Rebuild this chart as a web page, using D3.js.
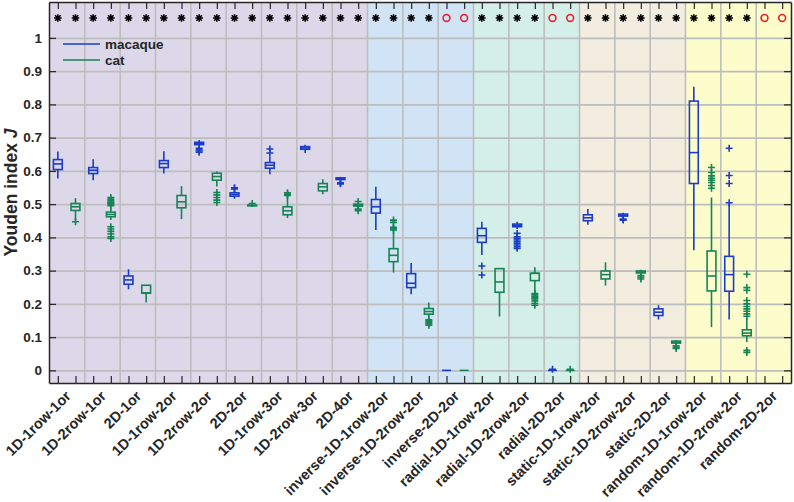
<!DOCTYPE html>
<html>
<head>
<meta charset="utf-8">
<script src="https://cdn.jsdelivr.net/npm/d3@7"></script>
<style>
  body { margin: 0; background: #fff; }
  svg text { font-family: "Liberation Sans", Arial, sans-serif; font-weight: bold; fill: #262626; }
</style>
</head>
<body>
<div id="chart"></div>
<script>
// categories on the x axis (each has a macaque and a cat box)
var categories = ['1D-1row-1or', '1D-2row-1or', '2D-1or', '1D-1row-2or', '1D-2row-2or', '2D-2or',
  '1D-1row-3or', '1D-2row-3or', '2D-4or', 'inverse-1D-1row-2or', 'inverse-1D-2row-2or',
  'inverse-2D-2or', 'radial-1D-1row-2or', 'radial-1D-2row-2or', 'radial-2D-2or',
  'static-1D-1row-2or', 'static-1D-2row-2or', 'static-2D-2or', 'random-1D-1row-2or',
  'random-1D-2row-2or', 'random-2D-2or'];

// stimulus families, number of categories in each
var groupSizes = [9, 3, 3, 3, 3];
var groupColors = ['#dcd8ea', '#d1e4f5', '#d4efe8', '#f3ede0', '#fdfdcc'];

// box stats per category: [whisker low, q1, median, q3, whisker high]
var macaqueBox = [
  [0.577, 0.604, 0.621, 0.634, 0.658], [0.572, 0.592, 0.602, 0.610, 0.635],
  [0.244, 0.259, 0.272, 0.284, 0.304], [0.592, 0.610, 0.622, 0.631, 0.659],
  [0.672, 0.679, 0.683, 0.686, 0.693], [0.516, 0.524, 0.529, 0.534, 0.540],
  [0.590, 0.608, 0.617, 0.625, 0.643], [0.654, 0.665, 0.669, 0.673, 0.679],
  [0.568, 0.574, 0.577, 0.579, 0.582], [0.422, 0.473, 0.492, 0.514, 0.552],
  [0.229, 0.249, 0.262, 0.291, 0.323], [0, 0, 0, 0, 0],
  [0.347, 0.385, 0.405, 0.427, 0.447], [0.425, 0.432, 0.436, 0.440, 0.447],
  [0, 0, 0, 0, 0], [0.438, 0.450, 0.459, 0.468, 0.485],
  [0.460, 0.464, 0.467, 0.470, 0.474], [0.153, 0.165, 0.175, 0.185, 0.196],
  [0.361, 0.562, 0.655, 0.810, 0.853], [0.153, 0.238, 0.288, 0.343, 0.500],
  null
];
var macaqueOut = [
  [], [], [], [], [0.668, 0.664, 0.660, 0.656], [0.546, 0.549], [0.654, 0.666], [],
  [0.564, 0.561], [], [], [], [0.314, 0.287],
  [0.412, 0.402, 0.397, 0.392, 0.387, 0.382, 0.377, 0.372, 0.367],
  [0.003], [], [0.455, 0.452], [], [], [0.668, 0.586, 0.562, 0.504], []
];
var catBox = [
  [0.452, 0.481, 0.492, 0.502, 0.518], [0.452, 0.462, 0.469, 0.476, 0.488],
  [0.204, 0.232, 0.233, 0.256, 0.256], [0.455, 0.489, 0.507, 0.526, 0.554],
  [0.553, 0.572, 0.583, 0.593, 0.598], [0.494, 0.495, 0.496, 0.497, 0.499],
  [0.458, 0.468, 0.480, 0.492, 0.522], [0.530, 0.540, 0.552, 0.562, 0.575],
  [0.488, 0.494, 0.497, 0.500, 0.505], [0.294, 0.327, 0.346, 0.366, 0.415],
  [0.160, 0.169, 0.177, 0.186, 0.204], [0, 0, 0, 0, 0],
  [0.162, 0.235, 0.266, 0.306, 0.306], [0.235, 0.270, 0.292, 0.292, 0.310],
  [0, 0, 0, 0, 0], [0.255, 0.275, 0.288, 0.299, 0.325],
  [0.289, 0.293, 0.296, 0.299, 0.303], [0.077, 0.082, 0.085, 0.088, 0.091],
  [0.130, 0.239, 0.284, 0.359, 0.520], [0.085, 0.104, 0.112, 0.122, 0.155],
  null
];
var catOut = [
  [0.447],
  [0.495, 0.500, 0.503, 0.506, 0.510, 0.515, 0.520, 0.432, 0.425, 0.418, 0.410, 0.402, 0.397],
  [], [], [0.535, 0.528, 0.520, 0.512, 0.505], [0.502], [0.526, 0.530, 0.534], [],
  [0.508, 0.485, 0.480], [0.422, 0.426, 0.430, 0.445, 0.452],
  [0.152, 0.148, 0.144, 0.140, 0.136], [], [],
  [0.231, 0.227, 0.223, 0.219, 0.215, 0.209, 0.202, 0.196],
  [0.003], [], [0.285, 0.280, 0.275], [0.074, 0.070, 0.066],
  [0.548, 0.556, 0.565, 0.572, 0.578, 0.585, 0.595, 0.610],
  [0.163, 0.170, 0.178, 0.185, 0.192, 0.200, 0.210, 0.241, 0.249, 0.289, 0.060, 0.054],
  []
];
// significance marks on top: 1 = asterisk, 0 = red circle
var macaqueSig = [1,1,1,1,1,1,1,1,1,1,1,0,1,1,0,1,1,1,1,1,0];
var catSig     = [1,1,1,1,1,1,1,1,1,1,1,0,1,1,0,1,1,1,1,1,0];

var yTicks = [0, 0.1, 0.2, 0.3, 0.4, 0.5, 0.6, 0.7, 0.8, 0.9, 1];
var seriesNames = ['macaque', 'cat'];
var seriesColors = ['#1b3cc8', '#168455'];

var W = 794, H = 502;
var margin = {left: 49, right: 3, top: 2, bottom: 119};
var pw = W - margin.left - margin.right,
  ph = H - margin.top - margin.bottom;

var x = d3.scaleLinear().domain([0.5, categories.length * 2 + 0.5]).range([0, pw]);
var y = d3.scaleLinear().domain([-0.038, 1.108]).range([ph, 0]);

var svg = d3.select('#chart').append('svg')
  .attr('width', W).attr('height', H)
  .append('g')
  .attr('transform', 'translate(' + margin.left + ',' + margin.top + ')');

// backgrounds per family
var start = 0;
groupSizes.forEach(function(n, i) {
  svg.append('rect')
    .attr('x', x(start * 2 + 0.5)).attr('width', x((start + n) * 2 + 0.5) - x(start * 2 + 0.5))
    .attr('y', 0).attr('height', ph)
    .attr('fill', groupColors[i]);
  start += n;
});

// grid
var bounds = d3.range(1, categories.length).map(function(i) { return i * 2 + 0.5; });
svg.append('g').attr('class', 'grid')
  .call(d3.axisLeft(y).tickValues(yTicks).tickSize(-pw).tickFormat(''));
svg.append('g').attr('class', 'grid vgrid')
  .call(d3.axisTop(x).tickValues(bounds).tickSize(-ph).tickSizeOuter(0).tickFormat(''));
svg.selectAll('.grid .domain').remove();
svg.selectAll('.grid line').attr('stroke', '#bdbdbd').attr('stroke-width', 1.6);

// boxes
var bw = x(1.25) - x(1);

function drawSeries(boxes, outs, s) {
  var col = seriesColors[s];
  var g = svg.append('g');
  boxes.forEach(function(b, i) {
    if (!b) return;
    var cx = x(i * 2 + 1 + s);
    g.append('line').attr('x1', cx).attr('x2', cx).attr('y1', y(b[3])).attr('y2', y(b[4]))
      .attr('stroke', col).attr('stroke-width', 1.6);
    g.append('line').attr('x1', cx).attr('x2', cx).attr('y1', y(b[0])).attr('y2', y(b[1]))
      .attr('stroke', col).attr('stroke-width', 1.6);
    g.append('rect').attr('x', cx - bw).attr('width', bw * 2)
      .attr('y', y(b[3])).attr('height', Math.max(0, y(b[1]) - y(b[3])))
      .attr('fill', 'none').attr('stroke', col).attr('stroke-width', 1.6);
    g.append('line').attr('x1', cx - bw).attr('x2', cx + bw).attr('y1', y(b[2])).attr('y2', y(b[2]))
      .attr('stroke', col).attr('stroke-width', 1.6);
  });
  outs.forEach(function(o, i) {
    var cx = x(i * 2 + 1 + s);
    o.forEach(function(v) {
      var cy = y(v);
      g.append('path')
        .attr('d', 'M' + (cx - 3.5) + ',' + cy + 'H' + (cx + 3.5) + 'M' + cx + ',' + (cy - 3.5) + 'V' + (cy + 3.5))
        .attr('stroke', col).attr('stroke-width', 1.6).attr('fill', 'none');
    });
  });
}
drawSeries(macaqueBox, macaqueOut, 0);
drawSeries(catBox, catOut, 1);

// significance markers
var sigY = y(1.06);
[macaqueSig, catSig].forEach(function(sig, s) {
  sig.forEach(function(v, i) {
    var cx = x(i * 2 + 1 + s);
    if (v) {
      var r = 3.8, d = r * 0.72;
      svg.append('path')
        .attr('d', 'M' + (cx - r) + ',' + sigY + 'H' + (cx + r) +
          'M' + cx + ',' + (sigY - r) + 'V' + (sigY + r) +
          'M' + (cx - d) + ',' + (sigY - d) + 'L' + (cx + d) + ',' + (sigY + d) +
          'M' + (cx - d) + ',' + (sigY + d) + 'L' + (cx + d) + ',' + (sigY - d))
        .attr('stroke', '#000').attr('stroke-width', 1.6);
    } else {
      svg.append('circle').attr('cx', cx).attr('cy', sigY).attr('r', 3.4)
        .attr('fill', 'none').attr('stroke', '#e8202a').attr('stroke-width', 1.6);
    }
  });
});

// axes with inward ticks
var allPos = d3.range(1, categories.length * 2 + 1);
var axisCol = '#262626';
var yl = svg.append('g').attr('class', 'ax')
  .call(d3.axisLeft(y).tickValues(yTicks).tickSizeInner(-7).tickSizeOuter(0)
    .tickPadding(7).tickFormat(function(d) { return d3.format('~g')(d); }));
yl.selectAll('text').style('font-size', '13.5px');
svg.append('g').attr('class', 'ax')
  .attr('transform', 'translate(' + pw + ',0)')
  .call(d3.axisRight(y).tickValues(yTicks).tickSizeInner(-7).tickSizeOuter(0).tickFormat(''));
svg.append('g').attr('class', 'ax')
  .attr('transform', 'translate(0,' + ph + ')')
  .call(d3.axisBottom(x).tickValues(allPos).tickSizeInner(-7).tickSizeOuter(0).tickFormat(''));
svg.append('g').attr('class', 'ax')
  .call(d3.axisTop(x).tickValues(allPos).tickSizeInner(-7).tickSizeOuter(0).tickFormat(''));
svg.selectAll('.ax path.domain').attr('stroke', axisCol).attr('stroke-width', 1.5);
svg.selectAll('.ax line').attr('stroke', axisCol).attr('stroke-width', 1.2);

// category labels
svg.append('g').selectAll('text')
  .data(categories)
  .join('text')
  .attr('transform', function(d, i) {
    return 'translate(' + (x(i * 2 + 1.5) + 5) + ',' + (ph + 14) + ') rotate(-45)';
  })
  .attr('text-anchor', 'end')
  .style('font-size', '14.5px')
  .text(function(d) { return d; });

// y label
var ylab = svg.append('text')
  .attr('transform', 'translate(-32,' + (ph / 2) + ') rotate(-90)')
  .attr('text-anchor', 'middle')
  .style('font-size', '17.5px');
ylab.append('tspan').text('Youden index ');
ylab.append('tspan').style('font-style', 'italic').text('J');

// legend
seriesNames.forEach(function(n, i) {
  var ly = 42 + i * 16;
  svg.append('line').attr('x1', 14).attr('x2', 51).attr('y1', ly).attr('y2', ly)
    .attr('stroke', seriesColors[i]).attr('stroke-width', 1.6);
  svg.append('text').attr('x', 56).attr('y', ly + 4.5)
    .style('font-size', '13.5px').text(n);
});
</script>
</body>
</html>
